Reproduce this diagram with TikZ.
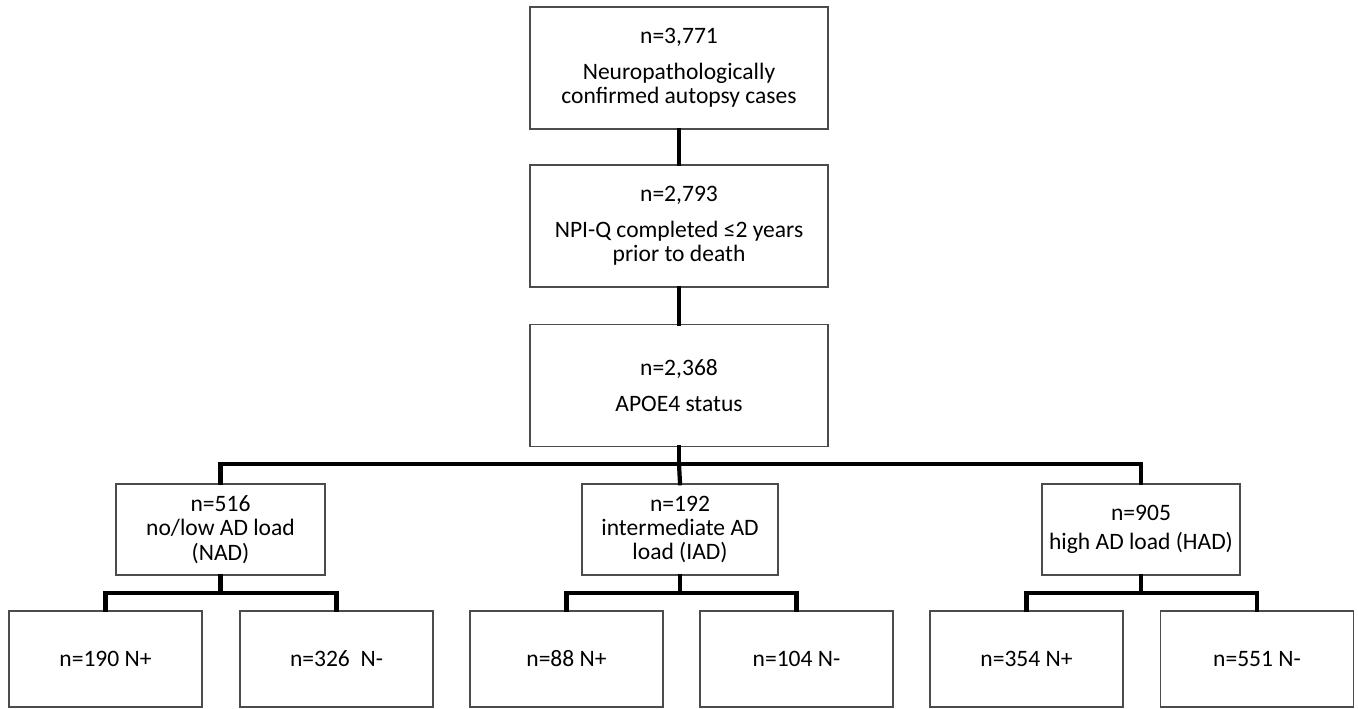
\documentclass[tikz,border=0pt]{standalone}
\usepackage{fontspec}
\setmainfont{Carlito}

\begin{document}
\begin{tikzpicture}[
  x=0.02cm, y=-0.02cm,
  box/.style={
    draw=black!70, line width=0.9pt, rectangle,
    font=\fontsize{13.4}{13.8}\selectfont, align=center, inner sep=1pt
  },
  topbox/.style={box, minimum width=5.96cm, minimum height=2.44cm},
  loadbox/.style={box, minimum height=1.82cm},
  subbox/.style={box, minimum width=3.86cm, minimum height=1.92cm},
  conn/.style={line width=2.4pt, line cap=rect},
]

\useasboundingbox (0,0) rectangle (1358,709);

% main flow
\node[topbox] (all)   at (679, 68)    {n=3,771\\[6.5pt]Neuropathologically\\confirmed autopsy cases};
\node[topbox] (npiq)  at (679, 226)   {n=2,793\\[6.5pt]NPI-Q completed ≤2 years\\prior to death};
\node[topbox] (apoe)  at (679, 385.5) {n=2,368\\[6.5pt]APOE4 status};

% AD load groups
\node[loadbox, minimum width=4.18cm] (nad) at (220.5, 529.5) {n=516\\no/low AD load\\(NAD)};
\node[loadbox, minimum width=3.92cm] (iad) at (680, 529.5)   {n=192\\intermediate AD\\load (IAD)};
\node[loadbox, minimum width=3.96cm] (had) at (1141, 529.5)  {n=905\\[3pt]high AD load (HAD)};

% N+ / N- split
\node[subbox] (nadp) at (105.5, 659)  {n=190 N+};
\node[subbox] (nadm) at (336.5, 659)  {n=326~~N-};
\node[subbox] (iadp) at (566.5, 659)  {n=88 N+};
\node[subbox] (iadm) at (796.5, 659)  {n=104 N-};
\node[subbox] (hadp) at (1026.5, 659) {n=354 N+};
\node[subbox] (hadm) at (1257, 659)   {n=551 N-};

\coordinate (bus)    at (679, 464);
\coordinate (nadbus) at (220.5, 593);
\coordinate (iadbus) at (680, 593);
\coordinate (hadbus) at (1141, 593);

\draw[conn] (all) -- (npiq);
\draw[conn] (npiq) -- (apoe);
\draw[conn] (apoe) -- (bus);
\draw[conn] (bus) -| (nad.north);
\draw[conn] (bus) -| (had.north);
\draw[conn] (bus) -- (iad.north);

\draw[conn] (nad) -- (nadbus);
\draw[conn] (nadbus) -| (nadp.north);
\draw[conn] (nadbus) -| (nadm.north);
\draw[conn] (iad) -- (iadbus);
\draw[conn] (iadbus) -| (iadp.north);
\draw[conn] (iadbus) -| (iadm.north);
\draw[conn] (had) -- (hadbus);
\draw[conn] (hadbus) -| (hadp.north);
\draw[conn] (hadbus) -| (hadm.north);

\end{tikzpicture}
\end{document}
